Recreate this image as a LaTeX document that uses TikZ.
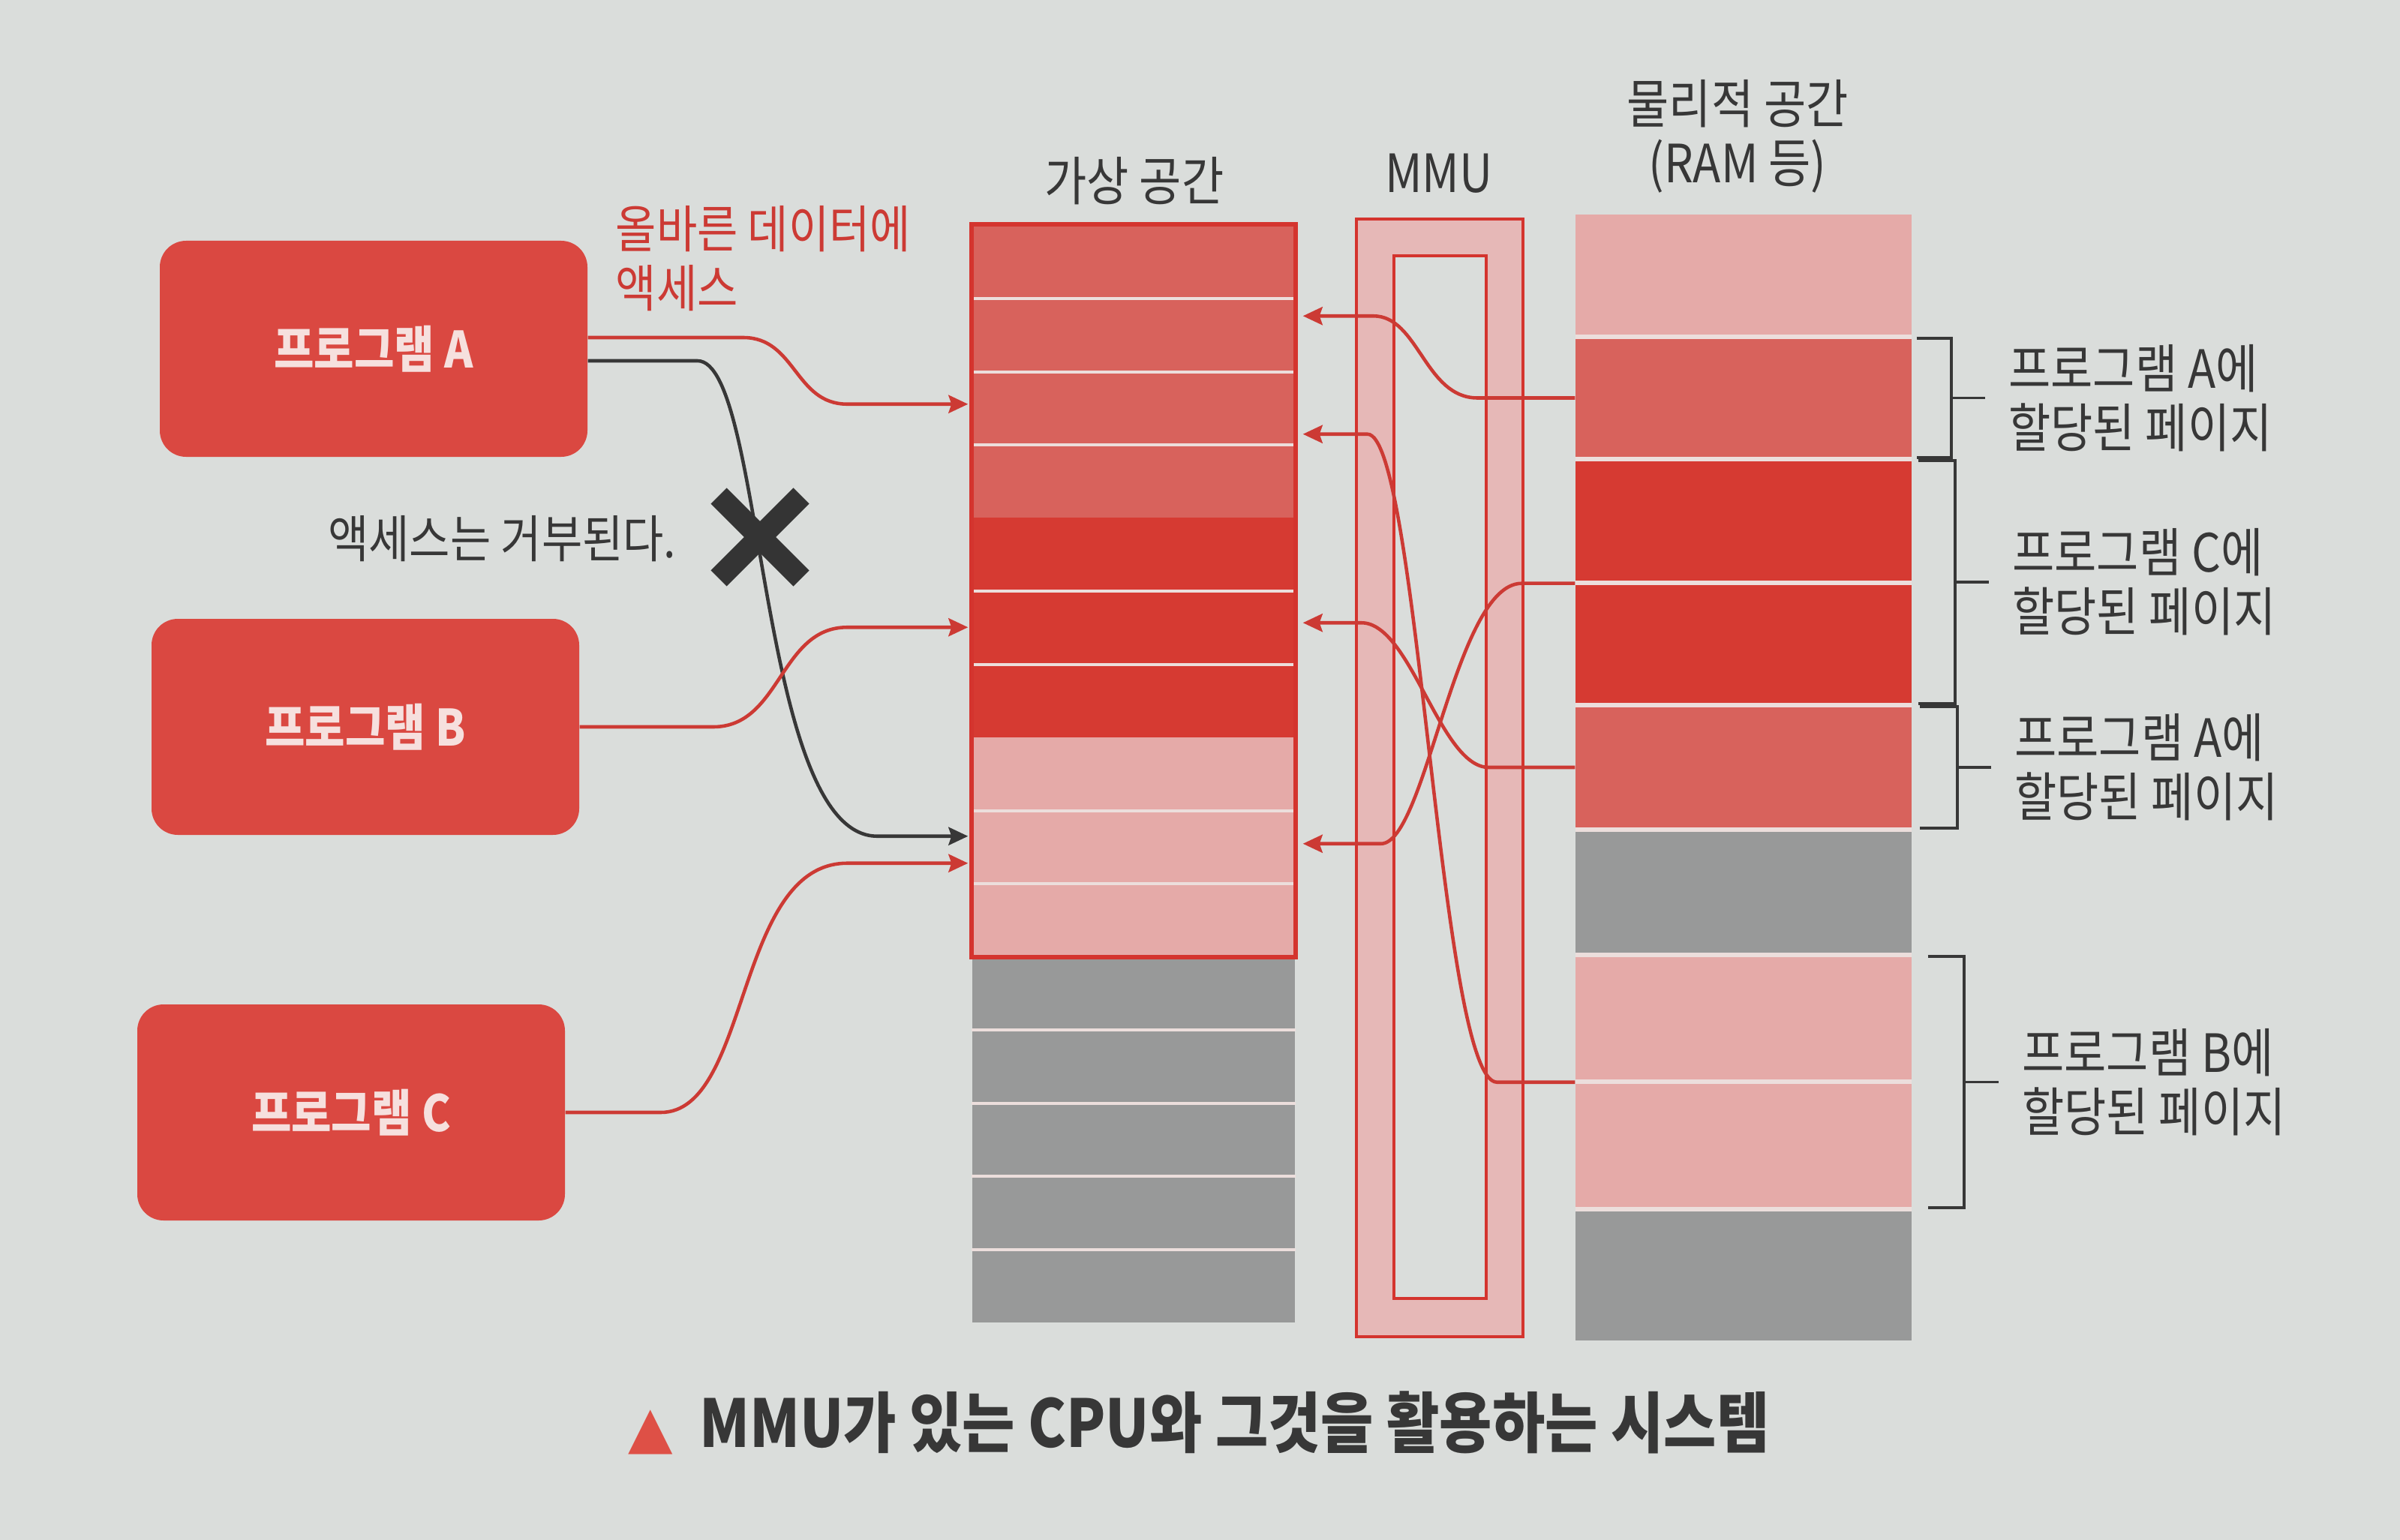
\documentclass[tikz,border=0pt]{standalone}
\usepackage{fontspec}
\setmainfont{Noto Sans CJK KR}[FakeStretch=0.87]
\newfontfamily\symfont{DejaVu Sans}
\usetikzlibrary{arrows.meta,calc}
\definecolor{bgcol}{RGB}{218,221,219}
\definecolor{progred}{RGB}{218,72,65}
\definecolor{boxtext}{RGB}{246,224,222}
\definecolor{midred}{RGB}{216,98,92}
\definecolor{darkred}{RGB}{214,58,50}
\definecolor{pinkrow}{RGB}{229,170,168}
\definecolor{grayrow}{RGB}{152,153,153}
\definecolor{seprow}{RGB}{236,222,220}
\definecolor{outred}{RGB}{212,52,46}
\definecolor{mmupink}{RGB}{230,184,183}
\definecolor{txtgray}{RGB}{55,55,55}
\definecolor{linkred}{RGB}{204,58,52}
\definecolor{capred}{RGB}{222,80,70}

\begin{document}
\begin{tikzpicture}[
  prog/.style={fill=progred, rounded corners=0.35cm, minimum width=5.7cm, minimum height=2.88cm,
    text=boxtext, font=\fontsize{19}{22}\selectfont\bfseries},
  vrow/.style={minimum width=4.3cm, minimum height=0.975cm},
  prow/.style={minimum width=4.48cm},
  vsep/.style={draw=seprow, line width=1.1pt},
  vout/.style={draw=outred, line width=1.7pt},
  mmuout/.style={fill=mmupink, draw=outred, line width=1.1pt, minimum width=2.22cm, minimum height=14.9cm},
  mmuin/.style={fill=bgcol, draw=outred, line width=1.1pt, minimum width=1.23cm, minimum height=13.9cm},
  head/.style={text=txtgray, font=\fontsize{20}{22.5}\selectfont},
  note/.style={text=txtgray, font=\fontsize{20}{22.5}\selectfont},
  leftnote/.style={text=txtgray, font=\fontsize{19.3}{22.5}\selectfont},
  link/.style={draw=linkred, line width=1.3pt, -{Stealth[length=0.26cm,width=0.24cm,inset=0.04cm]}},
  denylink/.style={link, draw=txtgray},
  cross/.style={draw=txtgray!95!black, line width=0.3cm},
  brk/.style={draw=txtgray, line width=1.1pt},
  caption/.style={text=txtgray, font=\fontsize{25}{28}\selectfont\bfseries}
]
\tikzstyle{every node}+=[inner sep=0pt]
\fill [bgcol] (0,0) rectangle (31.99,-20.53);
\useasboundingbox (0,0) rectangle (31.99,-20.53);
\node [prog] (progA) at (4.98,-4.65) {프로그램 A};
\node [prog] (progB) at (4.87,-9.69) {프로그램 B};
\node [prog] (progC) at (4.68,-14.83) {프로그램 C};
\node [vrow, fill=midred] (v1) at (15.11,-3.4875) {};
\node [vrow, fill=midred] (v2) at (15.11,-4.4625) {};
\node [vrow, fill=midred] (v3) at (15.11,-5.4375) {};
\node [vrow, fill=midred] (v4) at (15.11,-6.4125) {};
\node [vrow, fill=darkred] (v5) at (15.11,-7.3875) {};
\node [vrow, fill=darkred] (v6) at (15.11,-8.3625) {};
\node [vrow, fill=darkred] (v7) at (15.11,-9.3375) {};
\node [vrow, fill=pinkrow] (v8) at (15.11,-10.3125) {};
\node [vrow, fill=pinkrow] (v9) at (15.11,-11.2875) {};
\node [vrow, fill=pinkrow] (v10) at (15.11,-12.2625) {};
\node [vrow, fill=grayrow] (v11) at (15.11,-13.2375) {};
\node [vrow, fill=grayrow] (v12) at (15.11,-14.2125) {};
\node [vrow, fill=grayrow] (v13) at (15.11,-15.1875) {};
\node [vrow, fill=grayrow] (v14) at (15.11,-16.1625) {};
\node [vrow, fill=grayrow] (v15) at (15.11,-17.1375) {};
\draw [vsep] (v1.south west) -- (v1.south east);
\draw [vsep] (v2.south west) -- (v2.south east);
\draw [vsep] (v3.south west) -- (v3.south east);
\draw [vsep] (v5.south west) -- (v5.south east);
\draw [vsep] (v6.south west) -- (v6.south east);
\draw [vsep] (v8.south west) -- (v8.south east);
\draw [vsep] (v9.south west) -- (v9.south east);
\draw [vsep] (v11.south west) -- (v11.south east);
\draw [vsep] (v12.south west) -- (v12.south east);
\draw [vsep] (v13.south west) -- (v13.south east);
\draw [vsep] (v14.south west) -- (v14.south east);
\draw [vout] (v1.north west) rectangle (v10.south east);
\node [mmuout] (mmu) at (19.19,-10.37) {};
\node [mmuin] (mmuhole) at (19.195,-10.36) {};
\fill [seprow] (21.00,-2.86) rectangle (25.48,-17.87);
\node [prow, fill=pinkrow, minimum height=1.60cm] (p1) at (23.24,-3.66) {};
\node [prow, fill=midred, minimum height=1.57cm] (p2) at (23.24,-5.305) {};
\node [prow, fill=darkred, minimum height=1.59cm] (p3) at (23.24,-6.945) {};
\node [prow, fill=darkred, minimum height=1.57cm] (p4) at (23.24,-8.585) {};
\node [prow, fill=midred, minimum height=1.60cm] (p5) at (23.24,-10.23) {};
\node [prow, fill=grayrow, minimum height=1.61cm] (p6) at (23.24,-11.895) {};
\node [prow, fill=pinkrow, minimum height=1.63cm] (p7) at (23.24,-13.575) {};
\node [prow, fill=pinkrow, minimum height=1.64cm] (p8) at (23.24,-15.27) {};
\node [prow, fill=grayrow, minimum height=1.72cm] (p9) at (23.24,-17.01) {};
\node [head] (vhead) at (15.12,-2.41) {가상 공간};
\node [head] (mhead) at (19.18,-2.31) {MMU};
\node [head, align=center] (phead) at (23.16,-1.815) {물리적 공간\\(RAM 등)};
\node [leftnote, text=linkred, anchor=west, align=left] (oknote) at (8.20,-3.45) {올바른 데이터에\\액세스};
\node [leftnote, anchor=east] (denynote) at (9.02,-7.18) {액세스는 거부된다.};
\draw [link] ([yshift=0.15cm]progA.east) -- ++(2.07,0) .. controls +(0.7,0) and +(-0.7,0) .. ($(v3.west)+(-1.66,0.05)$) -- ([xshift=-0.05cm,yshift=0.05cm]v3.west);
\draw [denylink] ([yshift=-0.16cm]progA.east) -- ++(1.46,0) .. controls +(0.9,0) and +(-1.6,0) .. ($(v9.west)+(-1.26,0.14)$) -- ([xshift=-0.05cm,yshift=0.14cm]v9.west);
\draw [link] (progB.east) -- ++(1.78,0) .. controls +(0.9,0) and +(-0.9,0) .. ($(v6.west)+(-1.66,0)$) -- ([xshift=-0.05cm]v6.west);
\draw [link] (progC.east) -- ++(1.27,0) .. controls +(1.2,0) and +(-1.5,0) .. ($(v9.west)+(-1.66,-0.22)$) -- ([xshift=-0.05cm,yshift=-0.22cm]v9.west);
\draw [link] (p2.west) -- ++(-1.30,0) .. controls +(-0.7,0) and +(0.6,0) .. ($(v2.east)+(1.04,0.25)$) -- ([xshift=0.1cm,yshift=0.25cm]v2.east);
\draw [link] ([yshift=-0.03cm]p7.south west) -- ++(-1.04,0) .. controls +(-0.76,0) and +(0.68,0) .. ($(v3.east)+(0.96,-0.35)$) -- ([xshift=0.1cm,yshift=-0.35cm]v3.east);
\draw [link] ([yshift=-0.03cm]p3.south west) -- ++(-0.71,0) .. controls +(-0.89,0) and +(0.6,0) .. ($(v9.east)+(1.14,0.04)$) -- ([xshift=0.1cm,yshift=0.04cm]v9.east);
\draw [link] (p5.west) -- ++(-1.15,0) .. controls +(-0.65,0) and +(0.66,0) .. ($(v6.east)+(0.88,0.06)$) -- ([xshift=0.1cm,yshift=0.06cm]v6.east);
\coordinate (deny) at (10.13,-7.16);
\draw [cross] ($(deny)+(-0.55,0.55)$) -- ($(deny)+(0.55,-0.55)$);
\draw [cross] ($(deny)+(-0.55,-0.55)$) -- ($(deny)+(0.55,0.55)$);
\draw [brk] ([xshift=0.06cm]p2.north east) -| ([xshift=0.52cm]p2.east) |- ([xshift=0.06cm]p2.south east);
\draw [brk] ([xshift=0.52cm]p2.east) -- ++(0.45,0) coordinate (tA1);
\node [note, anchor=west, align=left] (labA1) at ([xshift=0.31cm]tA1) {프로그램 A에\\할당된 페이지};
\coordinate (pC) at ($(p3.north east)!0.5!(p4.south east)$);
\draw [brk] ([xshift=0.08cm]p3.north east) -| ([xshift=0.57cm]pC) |- ([xshift=0.08cm]p4.south east);
\draw [brk] ([xshift=0.57cm]pC) -- ++(0.45,0) coordinate (tC);
\node [note, anchor=west, align=left] (labC) at ([xshift=0.31cm]tC) {프로그램 C에\\할당된 페이지};
\draw [brk] ([xshift=0.10cm]p5.north east) -| ([xshift=0.60cm]p5.east) |- ([xshift=0.10cm]p5.south east);
\draw [brk] ([xshift=0.60cm]p5.east) -- ++(0.45,0) coordinate (tA2);
\node [note, anchor=west, align=left] (labA2) at ([xshift=0.31cm]tA2) {프로그램 A에\\할당된 페이지};
\coordinate (pB) at ($(p7.north east)!0.5!(p8.south east)$);
\draw [brk] ([xshift=0.21cm]p7.north east) -| ([xshift=0.69cm]pB) |- ([xshift=0.21cm]p8.south east);
\draw [brk] ([xshift=0.69cm]pB) -- ++(0.46,0) coordinate (tB);
\node [note, anchor=west, align=left] (labB) at ([xshift=0.31cm]tB) {프로그램 B에\\할당된 페이지};
\node [caption] (cap) at (15.98,-18.97) {{\color{capred}\symfont\fontsize{22}{28}\selectfont ▲}\hspace{0.35cm}MMU가 있는 CPU와 그것을 활용하는 시스템};
\end{tikzpicture}
\end{document}
